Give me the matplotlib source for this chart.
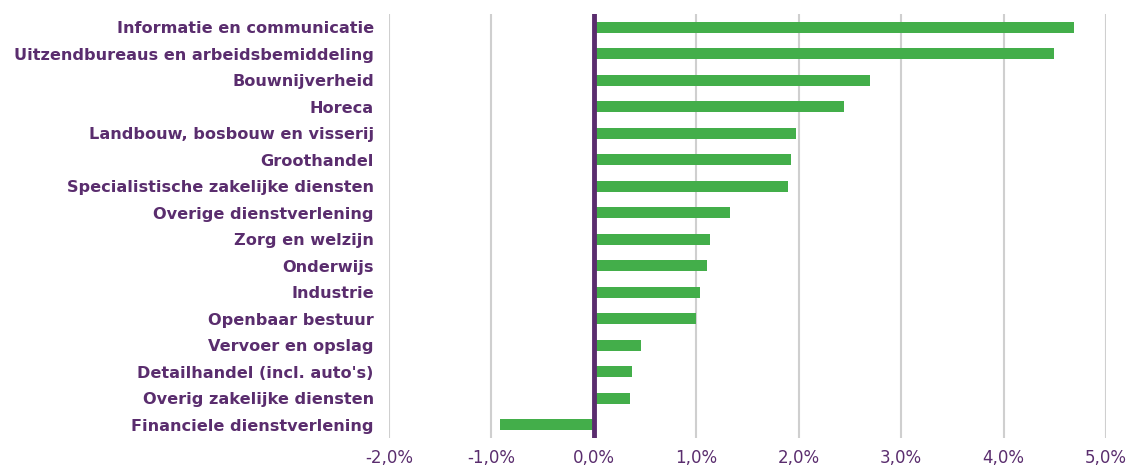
import numpy as np
import matplotlib
matplotlib.use("Agg")
import matplotlib.pyplot as plt

# sectors, top to bottom
sectors = ["Informatie en communicatie", "Uitzendbureaus en arbeidsbemiddeling",
           "Bouwnijverheid", "Horeca", "Landbouw, bosbouw en visserij",
           "Groothandel", "Specialistische zakelijke diensten",
           "Overige dienstverlening", "Zorg en welzijn", "Onderwijs",
           "Industrie", "Openbaar bestuur", "Vervoer en opslag",
           "Detailhandel (incl. auto's)", "Overig zakelijke diensten",
           "Financiele dienstverlening"]
growth = [4.69, 4.49, 2.70, 2.44, 1.97, 1.92, 1.89, 1.33, 1.13, 1.10,
          1.04, 1.00, 0.46, 0.37, 0.35, -0.92]
xticks = [-2, -1, 0, 1, 2, 3, 4, 5]

purple = "#5a2d6e"
green = "#43ae4a"

fig = plt.figure(figsize=(11.29, 4.69), dpi=100)
ax = fig.add_axes([0.3446, 0.0661, 0.6351, 0.904])

y = np.arange(len(sectors))
ax.barh(y, growth, height=0.42, color=green, zorder=2)
ax.set_ylim(len(sectors) - 0.5, -0.5)
ax.set_xlim(-2, 5)

ax.set_xticks(xticks)
ax.set_xticklabels([("%.1f%%" % v).replace(".", ",") for v in xticks],
                   color=purple, fontsize=12)
ax.set_yticks(y)
ax.set_yticklabels(sectors, color=purple, fontsize=11.6, fontweight="bold")
ax.tick_params(axis="both", length=0)
ax.tick_params(axis="y", pad=11)
ax.tick_params(axis="x", pad=8)

ax.grid(axis="x", color="#cfcfcf", linewidth=1.5, zorder=0)
ax.axvline(0, color=purple, linewidth=3.5, zorder=3)
for s in ax.spines.values():
    s.set_visible(False)

fig.savefig("out.png", dpi=100)
